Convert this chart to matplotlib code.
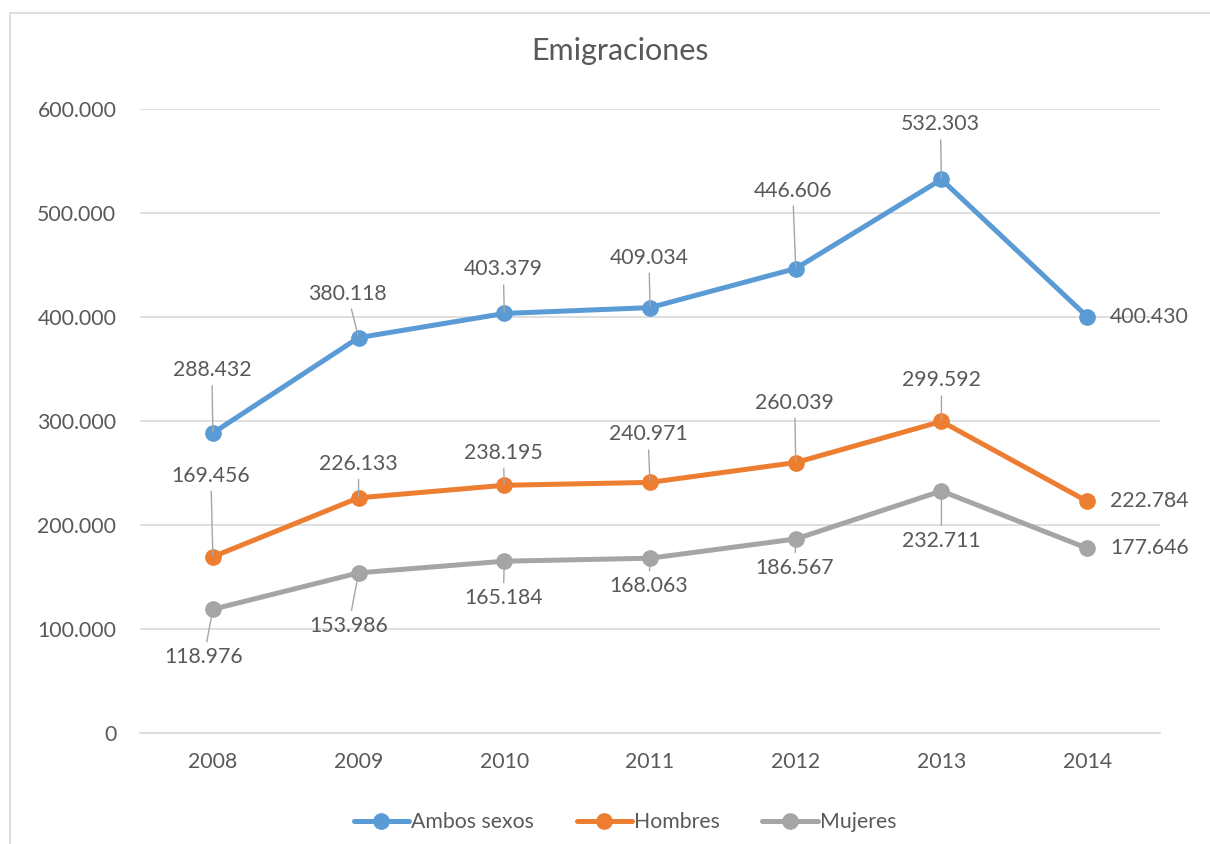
import matplotlib.pyplot as plt
from matplotlib.patches import Rectangle
from matplotlib.ticker import FuncFormatter

years = ["2008", "2009", "2010", "2011", "2012", "2013", "2014"]
ambos = [288432, 380118, 403379, 409034, 446606, 532303, 400430]
hombres = [169456, 226133, 238195, 240971, 260039, 299592, 222784]
mujeres = [118976, 153986, 165184, 168063, 186567, 232711, 177646]

# label offsets in pixels (dx, dy) relative to each point
ambos_off = [(-1, 64), (-11, 45), (-1, 45), (-1, 51), (-3, 79), (-1, 56), (23, 0)]
hombres_off = [(-2, 82), (0, 35), (-1, 33), (-2, 49), (-1, 61), (0, 42), (23, 0)]
mujeres_off = [(-9, -49), (-10, -54), (-1, -38), (-1, -29), (-1, -30), (0, -51), (23, 0)]

TEXT = "#595959"
GRID = "#D9D9D9"
FS = 15.3
plt.rcParams["font.family"] = ["Lato", "DejaVu Sans"]


def fmt(v, pos=None):
    return f"{int(v):,}".replace(",", ".")


fig = plt.figure(figsize=(12.1, 8.44), dpi=100)
ax = fig.add_axes([140 / 1210, 1 - 733 / 844, 1020 / 1210, 624 / 844])

# chart border (right edge is cut off in the original)
fig.patches.append(Rectangle((10 / 1210, -0.05), 1.1, 1.05 - 13 / 844,
                             transform=fig.transFigure, fill=False,
                             edgecolor=GRID, linewidth=1.2))

x = list(range(len(years)))
series = [
    ("Ambos sexos", ambos, ambos_off, "#5B9BD5"),
    ("Hombres", hombres, hombres_off, "#ED7D31"),
    ("Mujeres", mujeres, mujeres_off, "#A5A5A5"),
]

for name, vals, offs, col in series:
    ax.plot(x, vals, color=col, linewidth=3.6, marker="o", markersize=11,
            label=name, solid_capstyle="round", zorder=3)
    for i, (v, (dx, dy)) in enumerate(zip(vals, offs)):
        if dx > 15:
            ax.annotate(fmt(v), (i, v), xytext=(dx, dy), textcoords="offset pixels",
                        ha="left", va="center", fontsize=FS, color=TEXT)
        else:
            va = "bottom" if dy > 0 else "top"
            ty = dy - 11 if dy > 0 else dy + 11
            ax.annotate(fmt(v), (i, v), xytext=(dx, ty), textcoords="offset pixels",
                        ha="center", va=va, fontsize=FS, color=TEXT,
                        arrowprops=dict(arrowstyle="-", color="#A6A6A6", lw=1.0,
                                        shrinkA=2, shrinkB=1))

ax.set_xlim(-0.5, 6.5)
ax.set_ylim(0, 600000)
ax.set_yticks(range(0, 600001, 100000))
ax.yaxis.set_major_formatter(FuncFormatter(fmt))
ax.set_xticks(x)
ax.set_xticklabels(years)
ax.tick_params(axis="both", length=0, labelsize=FS, labelcolor=TEXT)
ax.tick_params(axis="y", pad=17)
ax.tick_params(axis="x", pad=14)
ax.grid(axis="y", color=GRID, linewidth=1.2)
ax.set_axisbelow(True)
for s in ["top", "right", "left"]:
    ax.spines[s].set_visible(False)
ax.spines["bottom"].set_color(GRID)
ax.spines["bottom"].set_linewidth(1.2)

fig.text(620 / 1210, 1 - 51 / 844, "Emigraciones", ha="center", va="center",
         fontsize=22, color=TEXT)

fig.legend(loc="center", bbox_to_anchor=(625 / 1210, 1 - 822 / 844), ncol=3,
           frameon=False, fontsize=FS, labelcolor=TEXT, handlelength=2.6,
           handletextpad=0.1, columnspacing=2.0)

fig.savefig("out.png", dpi=100)
